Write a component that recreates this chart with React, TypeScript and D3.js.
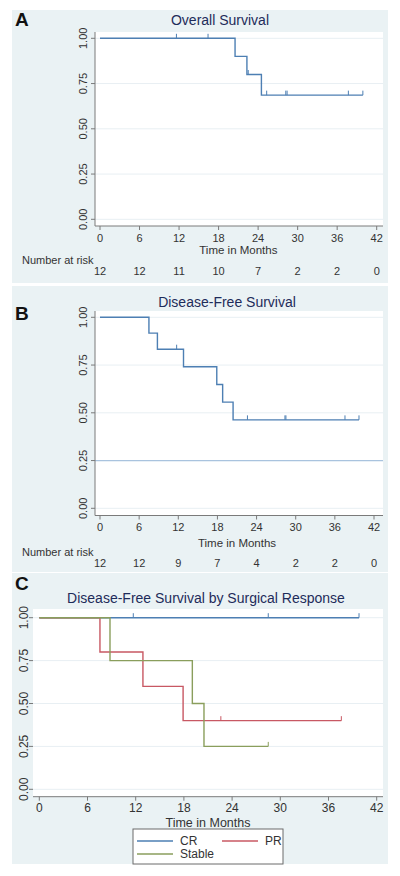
import React from "react";
import * as d3 from "d3";

const MONTH_TICKS = [0, 6, 12, 18, 24, 30, 36, 42];
const SURV_TICKS = [0, 0.25, 0.5, 0.75, 1];

// Panel A: Overall survival
const OS_TIMES = [0, 20.5, 22.3, 24.5];
const OS_SURV = [1, 0.9, 0.8, 0.686];
const OS_LAST = 39.9;
const OS_CENSORED = [11.6, 16.4, 22.5, 25.3, 28.2, 28.4, 37.7, 39.9];
const OS_AT_RISK = [12, 12, 11, 10, 7, 2, 2, 0];

// Panel B: Disease-free survival
const DFS_TIMES = [0, 7.5, 8.8, 12.8, 17.9, 18.8, 20.4];
const DFS_SURV = [1, 0.917, 0.833, 0.741, 0.648, 0.556, 0.463];
const DFS_LAST = 39.7;
const DFS_CENSORED = [11.75, 22.6, 28.35, 28.5, 37.55, 39.7];
const DFS_AT_RISK = [12, 12, 9, 7, 4, 2, 2, 0];
const DFS_REFLINE = 0.25;

// Panel C: by surgical response
const CR_TIMES = [0];
const CR_SURV = [1];
const CR_LAST = 39.8;
const CR_CENSORED = [11.7, 28.5, 39.8];

const PR_TIMES = [0, 7.55, 12.9, 17.9];
const PR_SURV = [1, 0.8, 0.6, 0.4];
const PR_LAST = 37.6;
const PR_CENSORED = [22.6, 37.6];

const ST_TIMES = [0, 8.8, 19.05, 20.5];
const ST_SURV = [1, 0.75, 0.5, 0.25];
const ST_LAST = 28.5;
const ST_CENSORED = [28.5];

const GROUPS = ["CR", "PR", "Stable"];

const FONT = "'Liberation Sans', Arial, Helvetica, sans-serif";
const BG = "#eaf2f4";
const TITLE_COLOR = "#1e2c5a";
const BLUE = "#4d7fb3";
const RED = "#c85863";
const GREEN = "#8a9e5c";
const GRID = "#e8eff3";
const AXIS = "#7a7a7a";

type Curve = { times: number[]; surv: number[]; last: number; censored: number[]; color: string };

function survAt(c: Curve, t: number) {
  let s = c.surv[0];
  for (let i = 0; i < c.times.length; i++) if (c.times[i] <= t) s = c.surv[i];
  return s;
}

type PanelProps = {
  letter: string;
  letterY: number;
  title: string;
  titleX: number;
  titleY: number;
  bg: [number, number];
  plot: { left: number; right: number; top: number; bottom: number };
  xr: [number, number];
  yr: [number, number];
  curves: Curve[];
  showYAxisLine: boolean;
  yLabelX: number;
  tickFont: number;
  tickLabelY: number;
  xTitleY: number;
  atRisk?: number[];
  riskLabelY?: number;
  riskNumY?: number;
  refLine?: number;
};

function Panel(p: PanelProps) {
  const x = d3.scaleLinear().domain([0, 42]).range(p.xr);
  const y = d3.scaleLinear().domain([0, 1]).range(p.yr);
  const line = d3
    .line<[number, number]>()
    .x((d) => x(d[0]))
    .y((d) => y(d[1]))
    .curve(d3.curveStepAfter);
  return (
    <g>
      <rect x={12} y={p.bg[0]} width={376} height={p.bg[1] - p.bg[0]} fill={BG} />
      <rect
        x={p.plot.left}
        y={p.plot.top}
        width={p.plot.right - p.plot.left}
        height={p.plot.bottom - p.plot.top}
        fill="#ffffff"
      />
      <text x={15} y={p.letterY} fontFamily={FONT} fontWeight="bold" fontSize={19} fill="#111">
        {p.letter}
      </text>
      <text x={p.titleX} y={p.titleY} textAnchor="middle" fontFamily={FONT} fontSize={14} fill={TITLE_COLOR}>
        {p.title}
      </text>
      {SURV_TICKS.map((v) => (
        <line key={"g" + v} x1={p.plot.left} x2={p.plot.right} y1={y(v)} y2={y(v)} stroke={GRID} strokeWidth={1} />
      ))}
      {p.refLine !== undefined && (
        <line
          x1={p.plot.left}
          x2={p.plot.right}
          y1={y(p.refLine)}
          y2={y(p.refLine)}
          stroke="#a9c3de"
          strokeWidth={1.3}
        />
      )}
      {p.showYAxisLine && (
        <line x1={p.plot.left} x2={p.plot.left} y1={p.plot.top} y2={p.plot.bottom} stroke={AXIS} strokeWidth={1} />
      )}
      {SURV_TICKS.map((v) => (
        <g key={"yt" + v}>
          <line x1={p.plot.left - 4} x2={p.plot.left} y1={y(v)} y2={y(v)} stroke={AXIS} strokeWidth={1} />
          <text
            transform={`translate(${p.yLabelX},${y(v)}) rotate(-90)`}
            textAnchor="middle"
            dominantBaseline="central"
            fontFamily={FONT}
            fontSize={p.tickFont}
            fill="#333"
          >
            {v.toFixed(2)}
          </text>
        </g>
      ))}
      <line x1={p.plot.left} x2={p.plot.right} y1={p.plot.bottom} y2={p.plot.bottom} stroke={AXIS} strokeWidth={1} />
      {MONTH_TICKS.map((m) => (
        <g key={"xt" + m}>
          <line x1={x(m)} x2={x(m)} y1={p.plot.bottom} y2={p.plot.bottom + 4} stroke={AXIS} strokeWidth={1} />
          <text x={x(m)} y={p.tickLabelY} textAnchor="middle" fontFamily={FONT} fontSize={p.tickFont} fill="#333">
            {m}
          </text>
        </g>
      ))}
      <text
        x={(p.xr[0] + p.xr[1]) / 2}
        y={p.xTitleY}
        textAnchor="middle"
        fontFamily={FONT}
        fontSize={p.tickFont + 0.5}
        fill="#333"
      >
        Time in Months
      </text>
      {p.atRisk && (
        <g>
          <text x={22} y={p.riskLabelY} fontFamily={FONT} fontSize={11} fill="#333">
            Number at risk
          </text>
          {p.atRisk.map((n, i) => (
            <text
              key={"r" + i}
              x={x(MONTH_TICKS[i])}
              y={p.riskNumY}
              textAnchor="middle"
              fontFamily={FONT}
              fontSize={11}
              fill="#333"
            >
              {n}
            </text>
          ))}
        </g>
      )}
      {p.curves.map((c, ci) => {
        const pts: [number, number][] = c.times.map((t, i) => [t, c.surv[i]] as [number, number]);
        pts.push([c.last, c.surv[c.surv.length - 1]]);
        return (
          <g key={"c" + ci}>
            <path d={line(pts) || ""} fill="none" stroke={c.color} strokeWidth={1.4} />
            {c.censored.map((t, k) => (
              <line
                key={"cs" + k}
                x1={x(t)}
                x2={x(t)}
                y1={y(survAt(c, t))}
                y2={y(survAt(c, t)) - 4.5}
                stroke={c.color}
                strokeWidth={1}
              />
            ))}
          </g>
        );
      })}
    </g>
  );
}

export default function App() {
  const osCurve: Curve = { times: OS_TIMES, surv: OS_SURV, last: OS_LAST, censored: OS_CENSORED, color: BLUE };
  const dfsCurve: Curve = { times: DFS_TIMES, surv: DFS_SURV, last: DFS_LAST, censored: DFS_CENSORED, color: BLUE };
  const crCurve: Curve = { times: CR_TIMES, surv: CR_SURV, last: CR_LAST, censored: CR_CENSORED, color: BLUE };
  const prCurve: Curve = { times: PR_TIMES, surv: PR_SURV, last: PR_LAST, censored: PR_CENSORED, color: RED };
  const stCurve: Curve = { times: ST_TIMES, surv: ST_SURV, last: ST_LAST, censored: ST_CENSORED, color: GREEN };
  const legendColors = [BLUE, RED, GREEN];
  const legendPos = [
    [137, 841],
    [222, 841],
    [137, 854],
  ];
  return (
    <svg width={400} height={876} style={{ position: "absolute", left: 0, top: 0 }}>
      <rect x={0} y={0} width={400} height={876} fill="#ffffff" />
      <Panel
        letter="A"
        letterY={26}
        title="Overall Survival"
        titleX={220}
        titleY={25}
        bg={[10, 283]}
        plot={{ left: 95, right: 383, top: 32, bottom: 226 }}
        xr={[100, 376.7]}
        yr={[219.3, 38.3]}
        curves={[osCurve]}
        showYAxisLine={true}
        yLabelX={83}
        tickFont={11}
        tickLabelY={242}
        xTitleY={254}
        atRisk={OS_AT_RISK}
        riskLabelY={264}
        riskNumY={275}
      />
      <Panel
        letter="B"
        letterY={320}
        title="Disease-Free Survival"
        titleX={227}
        titleY={307}
        bg={[286, 572]}
        plot={{ left: 95, right: 383, top: 311, bottom: 515.5 }}
        xr={[100, 374]}
        yr={[508.3, 317.3]}
        curves={[dfsCurve]}
        showYAxisLine={true}
        yLabelX={83}
        tickFont={11}
        tickLabelY={531}
        xTitleY={547}
        atRisk={DFS_AT_RISK}
        riskLabelY={556}
        riskNumY={567}
        refLine={DFS_REFLINE}
      />
      <Panel
        letter="C"
        letterY={590}
        title="Disease-Free Survival by Surgical Response"
        titleX={206}
        titleY={603}
        bg={[573, 864]}
        plot={{ left: 33, right: 383, top: 609, bottom: 796.7 }}
        xr={[39.3, 376.7]}
        yr={[789.3, 617.7]}
        curves={[crCurve, prCurve, stCurve]}
        showYAxisLine={false}
        yLabelX={24}
        tickFont={12}
        tickLabelY={812}
        xTitleY={827}
      />
      <rect x={133} y={829} width={150} height={35} fill="#ffffff" stroke="#6b6b6b" strokeWidth={1} />
      {GROUPS.map((g, i) => (
        <g key={g}>
          <line
            x1={legendPos[i][0]}
            x2={legendPos[i][0] + 36}
            y1={legendPos[i][1]}
            y2={legendPos[i][1]}
            stroke={legendColors[i]}
            strokeWidth={1.4}
          />
          <text
            x={legendPos[i][0] + 43}
            y={legendPos[i][1]}
            dominantBaseline="central"
            fontFamily={FONT}
            fontSize={12}
            fill="#333"
          >
            {g}
          </text>
        </g>
      ))}
    </svg>
  );
}
